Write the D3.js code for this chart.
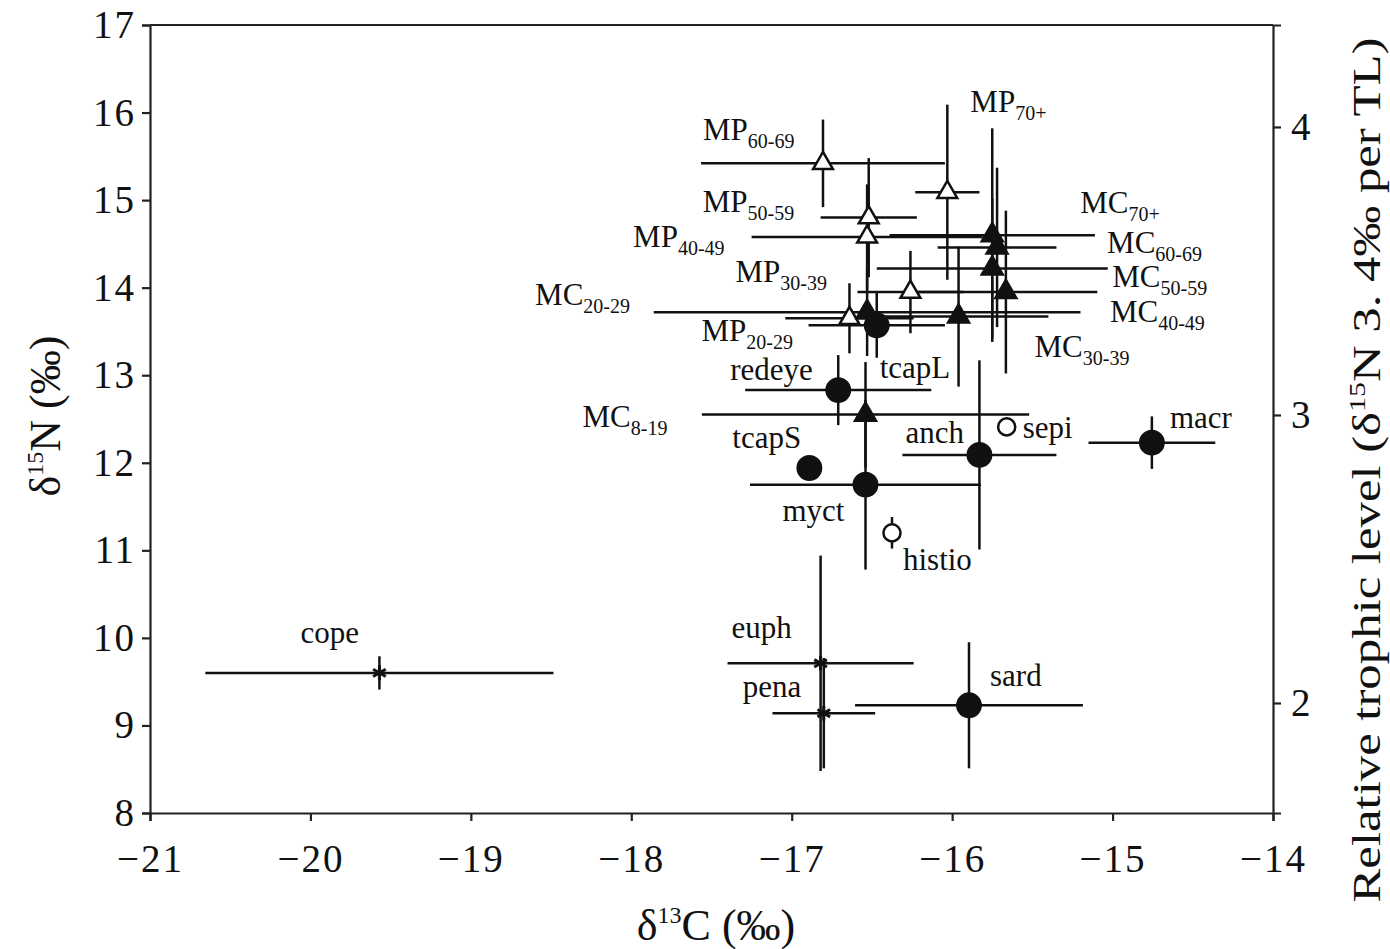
<!DOCTYPE html>
<meta charset="utf-8">
<style>
body { margin: 0; background: #fff; }
text { font-family: "Liberation Serif", "Times New Roman", serif; fill: #111; }
.axis path, .axis line { stroke: #222; stroke-width: 2.2; fill: none; }
.axis text { font-size: 39px; letter-spacing: 2px; }
.err { stroke: #111; stroke-width: 2.5; }
.lab { font-size: 31px; }
</style>
<body>
<script src="https://cdn.jsdelivr.net/npm/d3@7"></script>
<script>
// values
var names  = ["cope","euph","pena","sard","histio","myct","tcapS","anch","sepi","macr",
              "MC","redeye","tcapL","MP","MC","MC","MP","MC","MC","MC","MC","MP","MP","MP","MP"];
var subs   = ["","","","","","","","","","",
              "8-19","","","20-29","20-29","30-39","30-39","40-49","50-59","60-69","70+","40-49","50-59","60-69","70+"];
var kinds  = ["star","star","star","dot","ring","dot","dot","dot","ring","dot",
              "tri","dot","dot","otri","tri","tri","otri","tri","tri","tri","tri","otri","otri","otri","otri"];
var d13C   = [-19.57,-16.82,-16.80,-15.895,-16.375,-16.54,-16.89,-15.83,-15.66,-14.755,
              -16.54,-16.71,-16.47,-16.64,-16.53,-15.96,-16.26,-15.665,-15.75,-15.72,-15.75,-16.53,-16.52,-16.805,-16.03];
var d15N   = [9.60,9.71,9.14,9.23,11.20,11.75,11.94,12.09,12.41,12.23,
              12.55,12.83,13.57,13.65,13.72,13.67,13.95,13.95,14.22,14.46,14.60,14.58,14.80,15.42,15.09];
var sdC    = [1.085,0.58,0.32,0.71,0,0.72,0,0.48,0,0.395,
              1.02,0.58,0.425,0.40,1.33,0.56,0.33,0.57,0.72,0.37,0.64,0.72,0.30,0.76,0.20];
var sdN    = [0.19,1.23,0.63,0.72,0.18,0.97,0,1.08,0,0.30,
              0.60,0.40,0.37,0.40,0.50,0.80,0.47,0.93,0.80,0.91,1.22,0.60,0.68,0.50,1.00];

// label offsets from the marker, in pixels
var labDx  = [-79,-89,-81,21,11,-83,-77,-74,16,18,
              -283,-108,3,-148,-332,76,-175,104,120,110,88,-234,-166,-120,23];
var labDy  = [-30,-25,-16,-19,37,36,-20,-12,11,-15,
              12,-10,53,23,-7,40,-10,30,19,6,-22,10,-6,-23,-80];

var xTicks  = [-21,-20,-19,-18,-17,-16,-15,-14];
var yTicks  = [8,9,10,11,12,13,14,15,16,17];
var tlTicks = [2,3,4];

var W = 1390, H = 949;
var L = 150, R = 1273, T = 25, B = 813;

var svg = d3.select("body").append("svg")
    .attr("width", W)
    .attr("height", H);

svg.append("rect").attr("width", W).attr("height", H).attr("fill", "#fff");

var x = d3.scaleLinear().domain([-21, -14]).range([L, R]);
var y = d3.scaleLinear().domain([8, 17]).range([B, T]);
// trophic level axis (3.4 per mil per level, offset as in figure)
var tl = d3.scaleLinear().domain([1.618, 4.354]).range([B, T]);

svg.append("g").attr("class", "axis")
    .attr("transform", "translate(0," + B + ")")
    .call(d3.axisBottom(x).tickValues(xTicks).tickSize(8).tickPadding(23).tickFormat(d3.format("d")));

svg.append("g").attr("class", "axis")
    .attr("transform", "translate(" + L + ",0)")
    .call(d3.axisLeft(y).tickValues(yTicks).tickSize(8).tickPadding(6).tickFormat(d3.format("d")));

svg.append("g").attr("class", "axis")
    .attr("transform", "translate(" + R + ",0)")
    .call(d3.axisRight(tl).tickValues(tlTicks).tickSize(8).tickPadding(10).tickFormat(d3.format("d")));

svg.append("line")
    .attr("x1", L).attr("x2", R).attr("y1", T).attr("y2", T)
    .attr("stroke", "#222").attr("stroke-width", 2.2);

var idx = d3.range(names.length);

// error bars
svg.selectAll(".eh").data(idx.filter(function(i) { return sdC[i] > 0; }))
  .enter().append("line").attr("class", "err")
    .attr("x1", function(i) { return x(d13C[i] - sdC[i]); })
    .attr("x2", function(i) { return x(d13C[i] + sdC[i]); })
    .attr("y1", function(i) { return y(d15N[i]); })
    .attr("y2", function(i) { return y(d15N[i]); });

svg.selectAll(".ev").data(idx.filter(function(i) { return sdN[i] > 0; }))
  .enter().append("line").attr("class", "err")
    .attr("x1", function(i) { return x(d13C[i]); })
    .attr("x2", function(i) { return x(d13C[i]); })
    .attr("y1", function(i) { return y(d15N[i] - sdN[i]); })
    .attr("y2", function(i) { return y(d15N[i] + sdN[i]); });

// markers
var sym = {
  star: d3.symbol(d3.symbolAsterisk, 150),
  dot:  d3.symbol(d3.symbolCircle, 430),
  ring: d3.symbol(d3.symbolCircle, 230),
  tri:  d3.symbol(d3.symbolTriangle, 190),
  otri: d3.symbol(d3.symbolTriangle, 170)
};

svg.selectAll(".pt").data(idx)
  .enter().append("path")
    .attr("transform", function(i) { return "translate(" + x(d13C[i]) + "," + y(d15N[i]) + ")"; })
    .attr("d", function(i) { return sym[kinds[i]](); })
    .attr("fill", function(i) { return (kinds[i] == "ring" || kinds[i] == "otri") ? "#fff" : "#111"; })
    .attr("stroke", "#111")
    .attr("stroke-width", function(i) { return kinds[i] == "star" ? 3 : 2.5; });

// labels
var lab = svg.selectAll(".lab").data(idx)
  .enter().append("text").attr("class", "lab")
    .attr("x", function(i) { return x(d13C[i]) + labDx[i]; })
    .attr("y", function(i) { return y(d15N[i]) + labDy[i]; });
lab.append("tspan").text(function(i) { return names[i]; });
lab.filter(function(i) { return subs[i] != ""; })
  .append("tspan")
    .attr("dy", 8)
    .attr("font-size", 20)
    .text(function(i) { return subs[i]; });

// axis titles
var xt = svg.append("text")
    .attr("x", 716).attr("y", 940)
    .attr("text-anchor", "middle")
    .attr("font-size", 44);
xt.append("tspan").text("δ");
xt.append("tspan").attr("font-size", 24).attr("dy", -17).text("13");
xt.append("tspan").attr("dy", 17).text("C (‰)");

var yt = svg.append("text")
    .attr("transform", "translate(60,416) rotate(-90)")
    .attr("text-anchor", "middle")
    .attr("font-size", 44);
yt.append("tspan").text("δ");
yt.append("tspan").attr("font-size", 24).attr("dy", -17).text("15");
yt.append("tspan").attr("dy", 17).text("N (‰)");

var rt = svg.append("text")
    .attr("transform", "translate(1380,470) rotate(-90)")
    .attr("text-anchor", "middle")
    .attr("font-size", 39)
    .attr("textLength", 865)
    .attr("lengthAdjust", "spacingAndGlyphs");
rt.append("tspan").text("Relative trophic level  (δ");
rt.append("tspan").attr("font-size", 23).attr("dy", -15).text("15");
rt.append("tspan").attr("dy", 15).text("N 3. 4‰ per TL)");
</script>
</body>
